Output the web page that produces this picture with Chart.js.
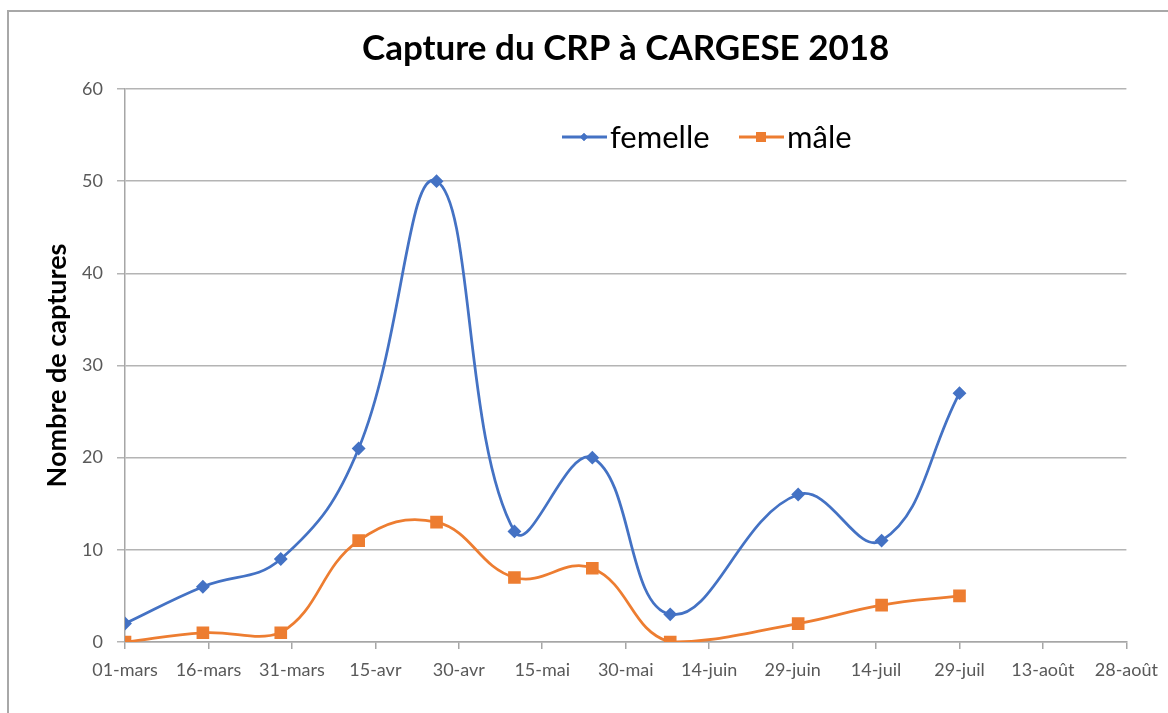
<!DOCTYPE html>
<html>
<head>
<meta charset="utf-8">
<script src="https://cdn.jsdelivr.net/npm/chart.js@4/dist/chart.umd.min.js"></script>
<style>
  html, body { margin: 0; padding: 0; background: #fff; overflow: hidden; }
  #wrap { position: relative; width: 1168px; height: 713px; }
  #cadre { position: absolute; left: 7px; top: 10px; width: 1200px; height: 760px; border: 2px solid #a8a8a8; box-sizing: border-box; }
  canvas { position: absolute; left: 0; top: 0; }
</style>
</head>
<body>
<div id="wrap">
  <div id="cadre"></div>
  <canvas id="graphe" width="1168" height="713"></canvas>
</div>
<script>
// jours comptés depuis le 01-mars
const jours = [0, 14, 28, 42, 56, 70, 84, 98, 121, 136, 150];
const femelle = [2, 6, 9, 21, 50, 12, 20, 3, 16, 11, 27];
const male = [0, 1, 1, 11, 13, 7, 8, 0, 2, 4, 5];
const etiquettesX = ['01-mars', '16-mars', '31-mars', '15-avr', '30-avr', '15-mai', '30-mai',
    '14-juin', '29-juin', '14-juil', '29-juil', '13-août', '28-août'];
const nomsSeries = ['femelle', 'mâle'];

const police = 'Lato, "Liberation Sans", sans-serif';
const bleu = '#4472C4';
const orange = '#ED7D31';

function points(valeurs) {
    return jours.map((j, i) => ({ x: j, y: valeurs[i] }));
}

// légende dessinée dans la zone du graphique, comme dans Excel
const legendeInterne = {
    id: 'legendeInterne',
    afterDraw(chart) {
        const c = chart.ctx;
        const a = chart.chartArea;
        const y = a.top + 48;
        const items = [
            { nom: nomsSeries[0], couleur: bleu, forme: 'rectRot', r: 4, x: a.left + 437 },
            { nom: nomsSeries[1], couleur: orange, forme: 'rect', r: 7, x: a.left + 614 }
        ];
        c.save();
        items.forEach(it => {
            c.strokeStyle = it.couleur;
            c.lineWidth = 3;
            c.beginPath();
            c.moveTo(it.x, y);
            c.lineTo(it.x + 45, y);
            c.stroke();
            c.fillStyle = it.couleur;
            Chart.helpers.drawPoint(c, { pointStyle: it.forme, radius: it.r, borderWidth: 0 }, it.x + 22, y);
            c.fill();
            c.fillStyle = '#000';
            c.font = '31px ' + police;
            c.textBaseline = 'middle';
            c.fillText(it.nom, it.x + 48, y + 1);
        });
        c.restore();
    }
};

new Chart(document.getElementById('graphe').getContext('2d'), {
    type: 'line',
    data: {
        datasets: [{
            label: nomsSeries[0],
            data: points(femelle),
            borderColor: bleu,
            backgroundColor: bleu,
            pointBackgroundColor: bleu,
            pointBorderColor: bleu,
            pointStyle: 'rectRot',
            pointRadius: 5,
            borderWidth: 2.75,
            tension: 0.42
        }, {
            label: nomsSeries[1],
            data: points(male),
            borderColor: orange,
            backgroundColor: orange,
            pointBackgroundColor: orange,
            pointBorderColor: orange,
            pointStyle: 'rect',
            pointRadius: 7,
            borderWidth: 2.75,
            tension: 0.42
        }]
    },
    options: {
        responsive: false,
        animation: false,
        events: [],
        layout: { padding: { left: 0, right: 38, top: 0, bottom: 0 } },
        plugins: {
            legend: { display: false },
            tooltip: { enabled: false },
            title: {
                display: true,
                fullSize: false,
                text: 'Capture du CRP à CARGESE 2018',
                color: '#000',
                font: { family: police, size: 35, weight: 'bold' },
                padding: { top: 28, bottom: 19 }
            }
        },
        scales: {
            x: {
                type: 'linear',
                min: 0,
                max: 180,
                afterFit: s => { s.height = 71; },
                afterBuildTicks: s => {
                    s.ticks = etiquettesX.map((t, i) => ({ value: i * 15 }));
                },
                ticks: {
                    callback: (v) => etiquettesX[Math.round(v / 15)],
                    color: '#595959',
                    font: { family: police, size: 18 },
                    padding: 10,
                    maxRotation: 0,
                    autoSkip: false
                },
                grid: { drawOnChartArea: false, tickLength: 7, color: '#a6a6a6', lineWidth: 1.5 },
                border: { color: '#a6a6a6', width: 1.5 }
            },
            y: {
                min: 0,
                max: 60,
                afterFit: s => { s.width = 125; },
                ticks: {
                    stepSize: 10,
                    color: '#595959',
                    font: { family: police, size: 18 },
                    padding: 14
                },
                grid: { color: '#b4b4b4', lineWidth: 1.5, tickLength: 8 },
                border: { color: '#a6a6a6', width: 1.5 },
                title: {
                    display: true,
                    text: 'Nombre de captures',
                    color: '#000',
                    font: { family: police, size: 27, weight: 'bold' },
                    padding: { top: 41, bottom: 0 }
                }
            }
        }
    },
    plugins: [legendeInterne]
});
</script>
</body>
</html>
